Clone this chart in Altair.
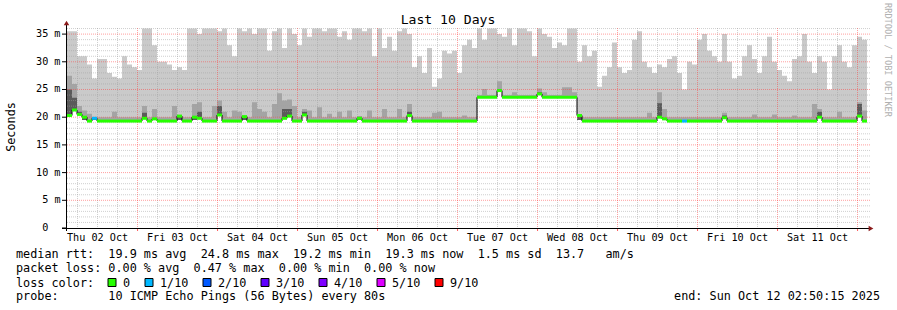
import altair as alt
import pandas as pd

# ---------------- data ----------------
BIN_H = 1.5                 # hours per bin (10 days = 160 bins)
SPAN_H = 240.0
FIRST_MIDNIGHT_H = 21.1625  # Thu 02 Oct 02:50:15 -> Fri 03 Oct 00:00

# upper edge of the lightest smoke (max ping), ms
rtt_max = [
    35.5, 35.5, 31, 31, 29.5, 27, 30.5, 30.5, 28, 27.3,
    27, 31, 29.5, 29, 28.5, 36, 36, 33, 30, 30,
    29.5, 28.5, 29, 28.5, 36, 36, 35, 36, 36, 36,
    35.5, 36, 33, 31, 36, 35.5, 36, 35, 36, 36,
    32, 35.5, 36, 32.5, 36, 35, 33, 36, 34.5, 36,
    36, 35.5, 36, 36, 34.5, 35.5, 34, 36, 36, 35.5,
    36, 31, 36, 32.5, 34.5, 32, 35.5, 36, 35, 29,
    31, 28, 32.5, 25.5, 27, 32, 31.5, 32, 28, 33,
    34, 32.5, 36, 34, 36, 36, 35, 34.5, 36, 33,
    36, 36, 35.5, 31, 36, 35, 34.5, 32.5, 33.5, 33,
    36, 36, 30, 33, 31, 32, 25.5, 27.5, 29, 33.5,
    29, 28, 28.5, 34, 35.5, 30, 29, 28, 29.5, 29,
    30.5, 31, 28, 25, 30, 29.5, 34, 35, 32, 31,
    30, 35, 30, 27, 27.5, 31, 33, 30.5, 28, 31,
    34.5, 30, 28.5, 27.5, 26.5, 30.5, 31, 35, 30, 28,
    31, 30, 25, 31, 33, 30, 29, 33, 34.5, 34,
]

# upper edge of the middle smoke band, ms
rtt_mid = [
    27.5, 26.0, 22.0, 21.2, 20.6, 20.0, 20.0, 20.0, 20.0, 21.0,
    20.0, 20.0, 20.0, 20.0, 20.0, 22.0, 20.0, 21.5, 20.0, 20.0,
    20.0, 22.0, 20.0, 20.0, 20.0, 22.4, 22.7, 20.0, 20.0, 22.0,
    23.0, 21.0, 20.0, 21.2, 21.0, 20.0, 20.0, 22.7, 21.5, 21.0,
    20.0, 22.4, 24.3, 23.0, 23.2, 22.0, 20.0, 21.5, 21.2, 20.0,
    21.8, 20.0, 20.6, 20.0, 21.0, 20.0, 21.2, 20.0, 20.2, 20.0,
    21.2, 20.0, 20.0, 21.5, 20.0, 20.0, 21.5, 20.0, 22.4, 20.0,
    20.0, 20.0, 20.0, 20.8, 21.0, 20.0, 20.0, 20.0, 20.0, 20.3,
    20.0, 20.0, 24.0, 25.1, 24.0, 24.0, 26.5, 24.0, 24.0, 24.5,
    24.0, 24.0, 24.0, 24.0, 25.2, 24.5, 24.0, 24.0, 24.0, 25.4,
    25.4, 24.5, 20.3, 20.0, 20.0, 20.0, 20.0, 20.0, 20.0, 20.0,
    20.0, 20.0, 20.0, 20.0, 20.0, 20.0, 20.8, 20.0, 24.5, 21.5,
    20.0, 20.0, 20.0, 20.0, 20.0, 20.0, 20.0, 20.0, 20.0, 20.0,
    20.0, 20.8, 20.0, 20.0, 20.0, 20.0, 20.0, 20.5, 20.0, 20.0,
    20.0, 20.5, 20.0, 20.0, 20.0, 20.3, 20.0, 20.0, 20.0, 22.4,
    21.5, 20.0, 20.0, 20.0, 21.0, 20.0, 20.0, 20.0, 22.7, 21.2,
]

# upper edge of the dark smoke core, ms
rtt_dark = [
    25.0, 23.5, 21.0, 19.5, 19.5, 19.5, 19.5, 19.5, 19.5, 19.5,
    19.5, 19.5, 19.5, 19.5, 19.5, 20.8, 19.5, 19.5, 19.5, 19.5,
    19.5, 19.5, 19.5, 19.5, 19.5, 19.5, 21.0, 19.5, 19.5, 19.5,
    22.0, 19.5, 19.5, 19.5, 19.5, 19.5, 19.5, 19.5, 19.5, 19.5,
    19.5, 19.5, 19.5, 21.5, 21.5, 19.5, 19.5, 21.0, 19.5, 19.5,
    19.5, 19.5, 19.5, 19.5, 19.5, 19.5, 19.5, 19.5, 19.5, 19.5,
    19.5, 19.5, 19.5, 19.5, 19.5, 19.5, 19.5, 19.5, 21.0, 19.5,
    19.5, 19.5, 19.5, 19.5, 19.5, 19.5, 19.5, 19.5, 19.5, 19.5,
    19.5, 19.5, 23.7, 23.7, 23.7, 23.7, 25.0, 23.7, 23.7, 23.7,
    23.7, 23.7, 23.7, 23.7, 24.5, 23.7, 23.7, 23.7, 23.7, 23.7,
    23.7, 23.7, 19.5, 19.5, 19.5, 19.5, 19.5, 19.5, 19.5, 19.5,
    19.5, 19.5, 19.5, 19.5, 19.5, 19.5, 19.5, 19.5, 22.5, 19.5,
    19.5, 19.5, 19.5, 19.5, 19.5, 19.5, 19.5, 19.5, 19.5, 19.5,
    19.5, 20.3, 19.5, 19.5, 19.5, 19.5, 19.5, 19.5, 19.5, 19.5,
    19.5, 19.5, 19.5, 19.5, 19.5, 19.5, 19.5, 19.5, 19.5, 19.5,
    21.0, 19.5, 19.5, 19.5, 19.5, 19.5, 19.5, 19.5, 22.4, 19.5,
]

# median rtt, ms
rtt_median = [
    20.3, 21.3, 20.5, 20.0, 19.3, 19.8, 19.3, 19.3, 19.3, 19.3,
    19.3, 19.3, 19.3, 19.3, 19.3, 19.8, 19.3, 19.7, 19.3, 19.3,
    19.3, 19.3, 20.2, 19.3, 19.3, 20.0, 19.8, 19.3, 19.3, 19.3,
    20.4, 19.3, 19.3, 19.3, 19.3, 20.1, 19.3, 19.3, 19.3, 19.3,
    19.3, 19.3, 19.3, 19.8, 20.2, 19.3, 19.3, 20.4, 19.3, 19.3,
    19.3, 19.3, 19.3, 19.3, 19.3, 19.3, 19.3, 19.3, 19.8, 19.3,
    19.3, 19.3, 19.3, 19.3, 19.3, 19.3, 19.3, 19.3, 20.3, 19.3,
    19.3, 19.3, 19.3, 19.3, 19.3, 19.3, 19.3, 19.3, 19.3, 19.3,
    19.3, 19.3, 23.6, 23.6, 23.6, 23.6, 24.8, 23.6, 23.6, 23.6,
    23.6, 23.6, 23.6, 23.6, 24.2, 23.6, 23.6, 23.6, 23.6, 23.6,
    23.6, 23.6, 20.3, 19.3, 19.3, 19.3, 19.3, 19.3, 19.3, 19.3,
    19.3, 19.3, 19.3, 19.3, 19.3, 19.3, 19.3, 19.3, 20.0, 19.7,
    19.3, 19.3, 19.3, 19.3, 19.3, 19.3, 19.3, 19.3, 19.3, 19.3,
    19.3, 19.9, 19.3, 19.3, 19.3, 19.3, 19.3, 19.3, 19.3, 19.3,
    19.3, 19.3, 19.3, 19.3, 19.3, 19.3, 19.3, 19.3, 19.3, 19.3,
    20.0, 19.3, 19.3, 19.3, 19.3, 19.3, 19.3, 19.3, 20.2, 19.3,
]

# bins whose median carries a loss colour other than 0 (value = lost pings of 10)
loss_events = {5: 1, 123: 1}

day_labels = ["Thu 02 Oct", "Fri 03 Oct", "Sat 04 Oct", "Sun 05 Oct", "Mon 06 Oct",
              "Tue 07 Oct", "Wed 08 Oct", "Thu 09 Oct", "Fri 10 Oct", "Sat 11 Oct"]
y_ticks = [5, 10, 15, 20, 25, 30, 35]
y_tick_labels = ["5 m", "10 m", "15 m", "20 m", "25 m", "30 m", "35 m"]

loss_labels = ["0", "1/10", "2/10", "3/10", "4/10", "5/10", "9/10"]
loss_colors = ["#26ff00", "#00b8ff", "#0059ff", "#5e00ff", "#7e00ff", "#dd00ff", "#ff0000"]
loss_index = [0, 1, 2, 3, 4, 5, 9]

median_stats = {"avg": 19.9, "max": 24.8, "min": 19.2, "now": 19.3, "sd": 1.5, "ams": 13.7}
loss_stats = {"avg": 0.00, "max": 0.47, "min": 0.00, "now": 0.00}

# ---------------- layout ----------------
W, H = 800, 200
LEFT, TOP = 67, 28
FONT = "DejaVu Sans Mono"
LEG_FS = 11.8
AXIS_FS = 10.17
AXIS_CW = 6.12
CHAR_W = 7.0

xs = alt.Scale(domain=[0, SPAN_H], nice=False, zero=False)
ys = alt.Scale(domain=[0, 36.1], nice=False, zero=True)

n = len(rtt_median)
t0 = [i * BIN_H for i in range(n)]
df = pd.DataFrame({
    "t0": t0,
    "t1": [t + BIN_H for t in t0],
    "median": rtt_median,
    "top": rtt_max,
    "mid": rtt_mid,
    "dark": rtt_dark,
})
df["color"] = [loss_colors[loss_index.index(loss_events.get(i, 0))] for i in range(n)]

# step table (one extra row to close the last bin)
step = df[["t0", "median", "top", "mid", "dark"]].rename(columns={"t0": "t"})
last = step.iloc[[-1]].copy()
last["t"] = SPAN_H
step = pd.concat([step, last], ignore_index=True)

# vertical connectors of the median
conn = pd.DataFrame({
    "t": df["t1"][:-1].values,
    "a": df["median"][:-1].values,
    "b": df["median"][1:].values,
})
conn = conn[conn["a"] != conn["b"]]

X = lambda f: alt.X(f, scale=xs, axis=None)
Y = lambda f: alt.Y(f, scale=ys, axis=None)

smoke_light = alt.Chart(step).mark_area(interpolate="step-after", color="#cacaca").encode(
    x=X("t:Q"), y=Y("median:Q"), y2="top:Q")
smoke_mid = alt.Chart(step).mark_area(interpolate="step-after", color="#a4a4a4").encode(
    x=X("t:Q"), y=Y("median:Q"), y2="mid:Q")
smoke_dark = alt.Chart(step).mark_area(interpolate="step-after", color="#5a5a5a").encode(
    x=X("t:Q"), y=Y("median:Q"), y2="dark:Q")

# grid
midnights = [FIRST_MIDNIGHT_H + 24 * k for k in range(10)]
six_h = [FIRST_MIDNIGHT_H - 18 + 6 * k for k in range(40)]
minor_x = [h for h in six_h if 0 < h < SPAN_H and all(abs(h - m) > 0.01 for m in midnights)]
major_y = [5, 10, 15, 20, 25, 30, 35]
minor_y = [v for v in range(1, 37) if v % 5 != 0]
noon_h = [m - 12 for m in midnights]

grid_minor_v = alt.Chart(pd.DataFrame({"h": minor_x})).mark_rule(
    color="#a0a0a0", opacity=0.5, strokeDash=[1, 1], strokeWidth=1).encode(
    x=X("h:Q"), y=alt.value(0), y2=alt.value(H))
grid_minor_h = alt.Chart(pd.DataFrame({"v": minor_y})).mark_rule(
    color="#a0a0a0", opacity=0.5, strokeDash=[1, 1], strokeWidth=1).encode(
    y=Y("v:Q"), x=alt.value(0), x2=alt.value(W + 3))
grid_major_v = alt.Chart(pd.DataFrame({"h": midnights})).mark_rule(
    color="#ff4040", opacity=0.5, strokeDash=[1, 1], strokeWidth=1).encode(
    x=X("h:Q"), y=alt.value(0), y2=alt.value(H + 3))
grid_major_h = alt.Chart(pd.DataFrame({"v": major_y})).mark_rule(
    color="#ff4040", opacity=0.5, strokeDash=[1, 1], strokeWidth=1).encode(
    y=Y("v:Q"), x=alt.value(0), x2=alt.value(W + 3))

# median line
med_conn = alt.Chart(conn).mark_rule(color="#000000", strokeWidth=1).encode(
    x=X("t:Q"), y=Y("a:Q"), y2="b:Q")
med_green = alt.Chart(df).mark_rule(strokeWidth=3).encode(
    x=X("t0:Q"), x2="t1:Q", y=Y("median:Q"),
    color=alt.Color("color:N", scale=None, legend=None))

# y axis: ticks and labels
ytab = pd.DataFrame({"v": [0] + y_ticks, "lab": ["0"] + y_tick_labels})
y_tick_marks = alt.Chart(ytab).mark_rule(color="#000000", strokeWidth=1).encode(
    y=Y("v:Q"), x=alt.value(-5), x2=alt.value(0))
y_tick_text = alt.Chart(ytab.iloc[1:]).mark_text(
    font=FONT, fontSize=AXIS_FS, color="#000000", align="right", baseline="middle").encode(
    y=Y("v:Q"), x=alt.value(60.5 - LEFT), text="lab:N")
# rrdtool prints the zero label padded, so it sits two characters further left
y_zero_text = alt.Chart(ytab.iloc[:1]).mark_text(
    font=FONT, fontSize=AXIS_FS, color="#000000", align="right", baseline="middle").encode(
    y=Y("v:Q"), x=alt.value(60.5 - 2 * AXIS_CW - LEFT), text="lab:N")

# axes lines and arrows
one = pd.DataFrame({"k": [0]})
y_axis_line = alt.Chart(one).mark_rule(color="#000000", strokeWidth=1).encode(
    x=alt.value(-0.5), y=alt.value(H + 3), y2=alt.value(-3))
x_axis_line = alt.Chart(one).mark_rule(color="#000000", strokeWidth=1).encode(
    y=alt.value(H + 0.5), x=alt.value(-5), x2=alt.value(W + 2))
y_arrow = alt.Chart(one).mark_point(shape="triangle-up", filled=True, size=30,
                                    color="#8b1a1a", opacity=1).encode(
    x=alt.value(-0.5), y=alt.value(-5))
x_arrow = alt.Chart(one).mark_point(shape="triangle-right", filled=True, size=30,
                                    color="#8b1a1a", opacity=1).encode(
    x=alt.value(W + 4), y=alt.value(H + 0.5))
x_ticks = alt.Chart(pd.DataFrame({"h": midnights})).mark_rule(color="#ff6060", strokeWidth=1).encode(
    x=X("h:Q"), y=alt.value(H + 1), y2=alt.value(H + 3))

day_text = alt.Chart(pd.DataFrame({"h": noon_h, "lab": day_labels})).mark_text(
    font=FONT, fontSize=AXIS_FS, color="#000000", align="center", baseline="middle").encode(
    x=X("h:Q"), y=alt.value(238 - TOP), text="lab:N")


def txt(s, px, py, size=LEG_FS, align="left", angle=0, color="#000000"):
    s = s.replace(" ", "\u00a0")
    kw = dict(font=FONT, fontSize=size, color=color, align=align, baseline="middle")
    if angle:
        kw["angle"] = angle
    return alt.Chart(pd.DataFrame({"s": [s]})).mark_text(**kw).encode(
        x=alt.value(px - LEFT), y=alt.value(py - TOP), text="s:N")


L1 = ("median rtt:  {avg:.1f} ms avg  {max:.1f} ms max  {min:.1f} ms min  "
      "{now:.1f} ms now  {sd:.1f} ms sd  {ams:.1f}   am/s").format(**median_stats)
L2 = ("packet loss: {avg:.2f} % avg  {max:.2f} % max  {min:.2f} % min  "
      "{now:.2f} % now").format(**loss_stats)
L4 = "probe:       10 ICMP Echo Pings (56 Bytes) every 80s"
END = "end: Sun Oct 12 02:50:15 2025"

texts = [
    txt("Last 10 Days", 448, 20, size=13.1, align="center"),
    txt("Seconds", 11, 127, size=LEG_FS, align="center", angle=270),
    txt("RRDTOOL / TOBI OETIKER", 887.5, 60, size=8.6, align="center", angle=90, color="#b0b0b0"),
    txt(L1, 16, 254),
    txt(L2, 16, 268),
    txt("loss color:", 16, 282.5),
    txt(L4, 16, 296),
    txt(END, 880, 296, align="right"),
]

# loss colour swatches
boxes = []
bx = 108.0
for lab, col in zip(loss_labels, loss_colors):
    boxes.append(alt.Chart(one).mark_rect(fill=col, stroke="#000000", strokeWidth=1).encode(
        x=alt.value(bx - LEFT), x2=alt.value(bx + 8 - LEFT),
        y=alt.value(278.5 - TOP), y2=alt.value(286.5 - TOP)))
    lx = bx + 15
    texts.append(txt(lab, lx, 282.5))
    bx = lx + len(lab) * CHAR_W + 15

chart = alt.layer(
    smoke_light, smoke_mid, smoke_dark,
    grid_minor_v, grid_minor_h, grid_major_v, grid_major_h,
    med_conn, med_green,
    y_tick_marks, y_tick_text, y_zero_text,
    x_axis_line, y_axis_line, x_ticks, y_arrow, x_arrow,
    day_text, *boxes, *texts,
).properties(
    width=W, height=H,
    autosize=alt.AutoSizeParams(type="none"),
    padding={"left": LEFT, "top": TOP, "right": 897 - LEFT - W, "bottom": 310 - TOP - H},
    background="#ffffff",
).configure_view(strokeWidth=0)

chart.save("out.html", embed_options={"renderer": "svg", "actions": False})
